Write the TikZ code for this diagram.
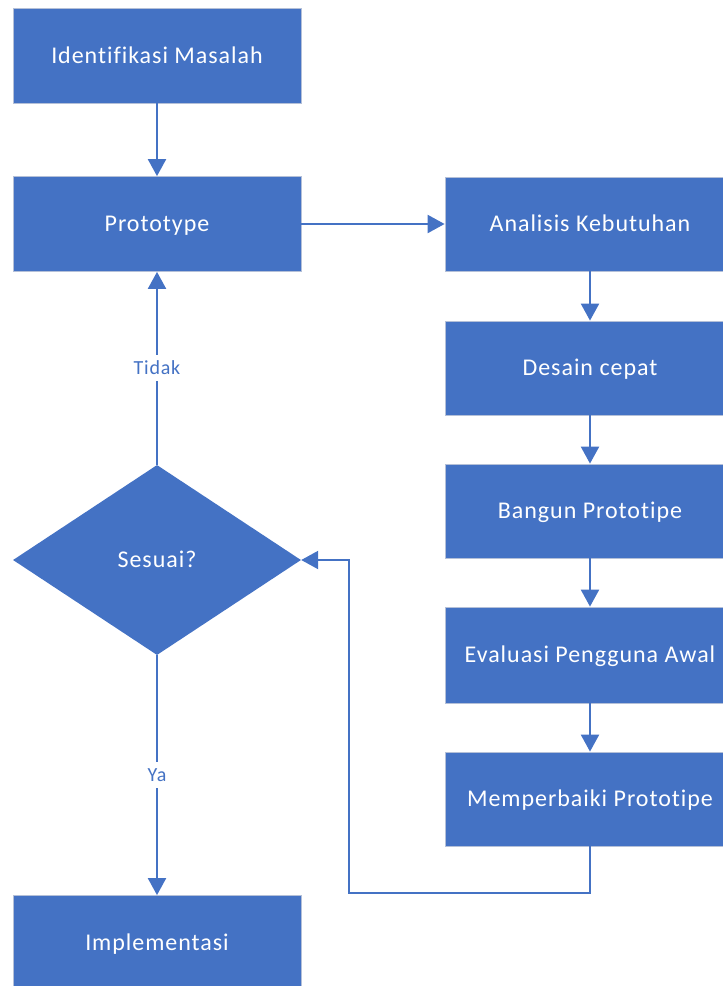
\documentclass[tikz,border=0pt]{standalone}
\usepackage{fontspec}
\setmainfont{Carlito}[RawFeature=-liga, LetterSpace=4]
\usetikzlibrary{arrows.meta,shapes.geometric}
\definecolor{boxblue}{HTML}{4472C4}
\definecolor{edgegray}{HTML}{B4C0D8}
\tikzset{
  box/.style={rectangle, fill=boxblue, draw=edgegray, line width=0.8pt, text=white,
    minimum width=288pt, minimum height=95pt, inner sep=0pt, text height=19pt, text depth=4pt,
    font=\fontsize{24}{28}\selectfont},
  rbox/.style={box, minimum width=290pt, minimum height=94pt},
  decision/.style={diamond, fill=boxblue, draw=none, text=white, inner sep=0pt,
    minimum width=288pt, minimum height=190pt, text height=19pt, text depth=4pt,
    font=\fontsize{24}{28}\selectfont},
  conn/.style={draw=boxblue, line width=2.2pt, -{Triangle[length=17pt,width=18pt]}},
  lbl/.style={fill=white, text=boxblue, inner sep=3pt, text height=16pt, text depth=4pt,
    font=\fontsize{20}{24}\selectfont}
}
\begin{document}
\begin{tikzpicture}[x=1pt,y=-1pt]
\useasboundingbox (0,0) rectangle (723,986);
\clip (0,0) rectangle (723,986);
\node[box] (ident) at (157,55.5) {Identifikasi Masalah};
\node[box] (proto) at (157,224) {Prototype};
\node[decision, shape aspect=1.5157] (sesuai) at (157,560) {Sesuai?};
\node[box] (impl) at (157,943) {Implementasi};
\node[rbox] (anal) at (590,224) {Analisis Kebutuhan};
\node[rbox] (desain) at (590,368) {Desain cepat};
\node[rbox] (bangun) at (590,511) {Bangun Prototipe};
\node[rbox, minimum height=96pt] (eval) at (590,655) {Evaluasi Pengguna Awal};
\node[rbox] (perb) at (590,799) {Memperbaiki Prototipe};
\coordinate (c1) at (590,893);
\coordinate (c2) at (349,893);
\coordinate (c3) at (349,560);
\draw[conn] (ident) -- (proto);
\draw[conn] (proto) -- (anal);
\draw[conn] (anal) -- (desain);
\draw[conn] (desain) -- (bangun);
\draw[conn] (bangun) -- (eval);
\draw[conn] (eval) -- (perb);
\draw[conn] (perb.south) -- (c1) -- (c2) -- (c3) -- (sesuai.east);
\draw[conn] (sesuai.north) -- node[lbl, pos=0.5] {Tidak} (proto.south);
\draw[conn] (sesuai.south) -- node[lbl, pos=0.5] {Ya} (impl.north);
\end{tikzpicture}
\end{document}
